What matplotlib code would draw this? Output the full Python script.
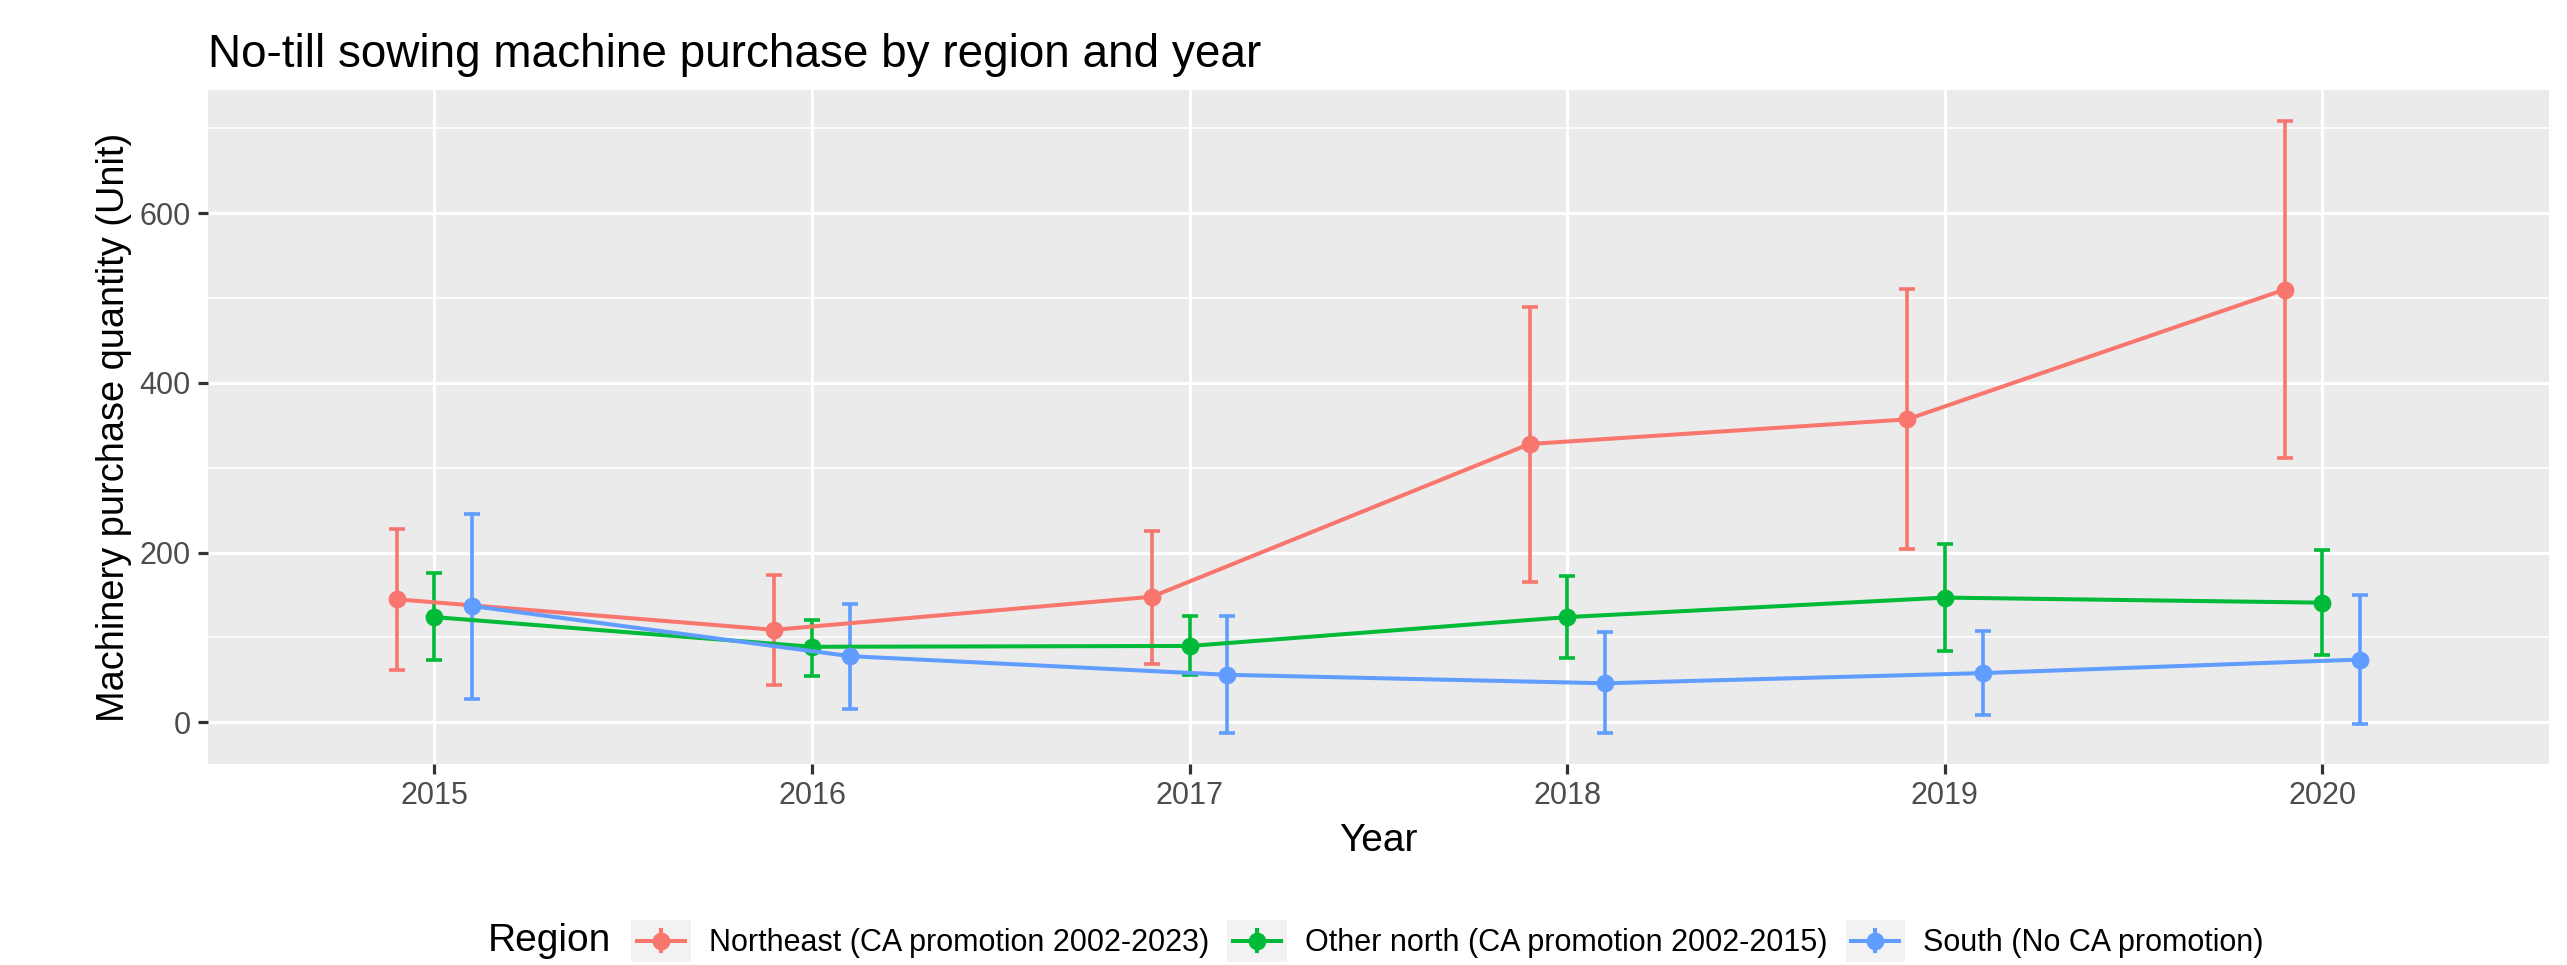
import numpy as np
import matplotlib
matplotlib.use("Agg")
import matplotlib.pyplot as plt
from matplotlib.legend_handler import HandlerBase
from matplotlib.patches import Rectangle
from matplotlib.lines import Line2D

plt.rcParams['font.family'] = ['Liberation Sans', 'DejaVu Sans']

years = [2015, 2016, 2017, 2018, 2019, 2020]
regions = ["Northeast (CA promotion 2002-2023)",
           "Other north (CA promotion 2002-2015)",
           "South (No CA promotion)"]
colors = ["#F8766D", "#00BA38", "#619CFF"]

northeast_mean = [145, 109, 148, 328, 357, 510]
northeast_low = [62, 44, 69, 165, 204, 311]
northeast_high = [228, 174, 226, 490, 511, 709]

other_mean = [124, 89, 90, 124, 147, 141]
other_low = [73, 55, 56, 76, 84, 79]
other_high = [176, 121, 125, 173, 210, 203]

south_mean = [137, 78, 56, 46, 58, 74]
south_low = [28, 16, -13, -13, 9, -2]
south_high = [246, 140, 125, 107, 108, 150]

means = [northeast_mean, other_mean, south_mean]
lows = [northeast_low, other_low, south_low]
highs = [northeast_high, other_high, south_high]
dodge = [-0.1, 0.0, 0.1]


class KeyHandler(HandlerBase):
    # ggplot-style key: grey box, path, short errorbar and point
    def create_artists(self, legend, orig_handle, xdescent, ydescent,
                       width, height, fontsize, trans):
        c = orig_handle.get_color()
        x0, y0 = -xdescent, -ydescent
        cx, cy = x0 + width / 2, y0 + height / 2
        bg = Rectangle((x0, y0), width, height, facecolor='#F2F2F2',
                       edgecolor='none', transform=trans)
        hl = Line2D([x0 + 0.1 * width, x0 + 0.9 * width], [cy, cy],
                    color=c, lw=1.45, transform=trans)
        vl = Line2D([cx, cx], [cy - 0.25 * height, cy + 0.25 * height],
                    color=c, lw=1.45, transform=trans)
        pt = Line2D([cx], [cy], marker='o', ms=5.4, color=c, lw=0,
                    transform=trans)
        return [bg, hl, vl, pt]


fig = plt.figure(figsize=(12.835, 4.825), dpi=200)
ax = fig.add_axes([0.081, 0.2083, 0.912, 0.6984])
ax.set_facecolor('#EBEBEB')
for s in ax.spines.values():
    s.set_visible(False)

handles = []
for m, lo, hi, c, d in zip(means, lows, highs, colors, dodge):
    x = np.array(years) + d
    m = np.array(m)
    ax.errorbar(x, m, yerr=[m - np.array(lo), np.array(hi) - m], fmt='none',
                ecolor=c, elinewidth=1.3, capsize=2.8, capthick=1.3, zorder=3)
    h, = ax.plot(x, m, color=c, lw=1.45, marker='o', ms=5.4, zorder=4)
    handles.append(h)

ymin = min(min(l) for l in lows)
ymax = max(max(h) for h in highs)
pad = (ymax - ymin) * 0.05
ax.set_ylim(ymin - pad, ymax + pad)
ax.set_xlim(years[0] - 0.6, years[-1] + 0.6)

ax.set_xticks(years)
ax.set_yticks([0, 200, 400, 600])
ax.set_yticks([100, 300, 500, 700], minor=True)
ax.grid(which='major', color='white', lw=1.15)
ax.grid(which='minor', axis='y', color='white', lw=0.6)
ax.set_axisbelow(True)
ax.tick_params(which='major', length=3.5, width=1.15, color='#333333',
               labelcolor='#4D4D4D', labelsize=11, pad=2.8)
ax.tick_params(which='minor', length=0)

ax.set_xlabel("Year", fontsize=14, labelpad=4)
ax.set_ylabel("Machinery purchase quantity (Unit)", fontsize=13.7, labelpad=2.5)
ax.set_title("No-till sowing machine purchase by region and year",
             loc='left', fontsize=16.5, pad=8.3)

leg = fig.legend(handles, regions, handler_map={Line2D: KeyHandler()},
                 loc='center left', bbox_to_anchor=(0.246, 0.025), ncol=3,
                 frameon=False, fontsize=11, handlelength=1.95,
                 handleheight=1.75, handletextpad=0.6, columnspacing=0.58,
                 borderpad=0, borderaxespad=0)
fig.text(0.238, 0.025, "Region", fontsize=14, ha='right', va='center')

fig.savefig('out.png', dpi=200)
